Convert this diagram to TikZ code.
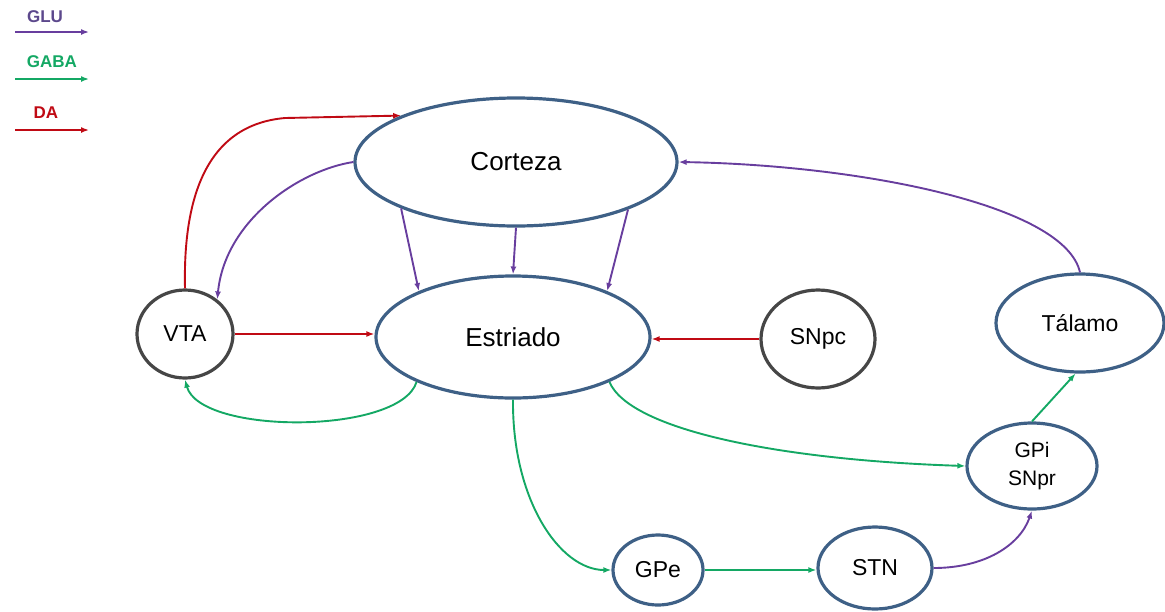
\documentclass[tikz,border=0pt]{standalone}
\usepackage{fontspec}
\setmainfont{Liberation Sans}
\usetikzlibrary{shapes.geometric,arrows.meta}

\definecolor{nodeblue}{RGB}{62,96,134}
\definecolor{nodegray}{RGB}{70,70,70}
\definecolor{glu}{RGB}{104,62,158}
\definecolor{gaba}{RGB}{20,168,100}
\definecolor{da}{RGB}{192,10,20}
\definecolor{glutext}{RGB}{92,72,140}

\begin{document}
\begin{tikzpicture}[x=1pt,y=-1pt]
    \tikzstyle{every node}=[inner sep=1]
    \tikzstyle{area}=[ellipse, draw=nodeblue, line width=3.2pt, fill=white, align=center, font=\fontsize{23}{28}\selectfont]
    \tikzstyle{big}=[font=\fontsize{26}{30}\selectfont]
    \tikzstyle{grey}=[draw=nodegray]
    \tikzstyle{con}=[line width=1.9pt, -{Latex[length=8pt,width=6pt]}]
    \tikzstyle{key}=[font=\fontsize{17}{20}\selectfont\bfseries]
    \useasboundingbox (0,0) rectangle (1165,611);
    % legend
    \node[key, text=glutext] (GLU) at (45,17) {GLU};
    \node[key, text=gaba] (GABA) at (52,62) {GABA};
    \node[key, text=da] (DA) at (46,113) {DA};
    \coordinate (GLU0) at (15,32);  \coordinate (GLU1) at (89,32);
    \coordinate (GABA0) at (15,79); \coordinate (GABA1) at (89,79);
    \coordinate (DA0) at (15,130);  \coordinate (DA1) at (89,130);
    \draw[con, glu, line width=1.5pt] (GLU0) -- (GLU1);
    \draw[con, gaba, line width=1.5pt] (GABA0) -- (GABA1);
    \draw[con, da, line width=1.5pt] (DA0) -- (DA1);
    % nuclei
    \node[area, big, minimum width=322, minimum height=128] (Corteza) at (516,162) {Corteza};
    \node[area, big, minimum width=274, minimum height=122] (Estriado) at (513,337) {Estriado};
    \node[area, grey, minimum width=96, minimum height=88] (VTA) at (185,334) {VTA};
    \node[area, grey, minimum width=114, minimum height=98] (SNpc) at (818,339) {SNpc};
    \node[area, minimum width=168, minimum height=98] (Talamo) at (1080,323) {Tálamo};
    \node[area, minimum width=130, minimum height=86, font=\fontsize{21}{28}\selectfont] (GPi) at (1032,466) {GPi\\SNpr};
    \node[area, minimum width=90, minimum height=70] (GPe) at (658,570) {GPe};
    \node[area, minimum width=114, minimum height=82] (STN) at (875,568) {STN};
    % dopamine
    \draw[con, da] (VTA.north) .. controls (183,200) and (205,125) .. (285,118) -- (Corteza.158.5);
    \draw[con, da] (VTA.east) -- (VTA.east -| Estriado.west);
    \draw[con, da] (SNpc.west) -- (SNpc.west -| Estriado.east);
    % glutamate
    \draw[con, glu] (Corteza.west) .. controls (300,170) and (225,220) .. (VTA.47);
    \draw[con, glu] (Corteza.202) -- (Estriado.154);
    \draw[con, glu] (Corteza.south) -- (Estriado.north);
    \draw[con, glu] (Corteza.337) -- (Estriado.26);
    \draw[con, glu] (Talamo.north) .. controls (1065,205) and (860,165) .. (Corteza.east);
    \draw[con, glu] (STN.east) .. controls (985,568) and (1020,545) .. (GPi.south);
    % GABA
    \draw[con, gaba] (Estriado.205) .. controls (400,435) and (200,435) .. (VTA.south);
    \draw[con, gaba] (Estriado.south) .. controls (512,500) and (560,570) .. (GPe.west);
    \draw[con, gaba] (Estriado.335) .. controls (630,430) and (780,460) .. (GPi.west);
    \draw[con, gaba] (GPe.east) -- (GPe.east -| STN.west);
    \draw[con, gaba] (GPi.north) -- (Talamo.265);
\end{tikzpicture}
\end{document}
